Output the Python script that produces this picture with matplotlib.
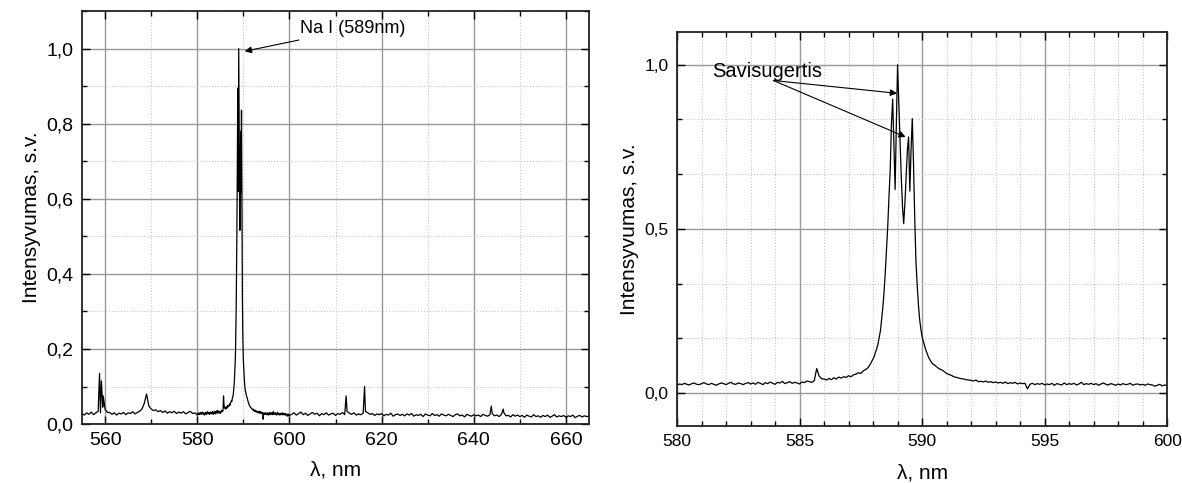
import numpy as np
import matplotlib
matplotlib.use('Agg')
import matplotlib.pyplot as plt
from matplotlib.ticker import MultipleLocator, FuncFormatter

plt.rcParams['font.family'] = ['Liberation Sans', 'DejaVu Sans']

# spectrum in pieces with different sampling
wl_a = np.arange(555.0, 580.0, 0.5)
int_a = [0.028, 0.024, 0.030, 0.026, 0.032, 0.025, 0.030, 0.034, 0.030, 0.045,
         0.040, 0.031, 0.031, 0.026, 0.030, 0.024, 0.029, 0.027, 0.031, 0.025,
         0.030, 0.028, 0.033, 0.027, 0.031, 0.034, 0.040, 0.055, 0.080, 0.048,
         0.040, 0.036, 0.038, 0.033, 0.036, 0.031, 0.035, 0.029, 0.033, 0.030,
         0.034, 0.028, 0.032, 0.029, 0.033, 0.027, 0.031, 0.034, 0.028, 0.030]

wl_b1 = np.arange(580.0, 587.95, 0.1)
int_b1 = [0.024, 0.028, 0.026, 0.030, 0.027, 0.025, 0.029, 0.031, 0.027, 0.026,
          0.029, 0.032, 0.028, 0.026, 0.030, 0.027, 0.024, 0.028, 0.031, 0.029,
          0.026, 0.030, 0.033, 0.028, 0.027, 0.031, 0.029, 0.026, 0.030, 0.032,
          0.028, 0.031, 0.027, 0.033, 0.030, 0.026, 0.032, 0.029, 0.034, 0.030,
          0.027, 0.033, 0.031, 0.036, 0.029, 0.032, 0.035, 0.030, 0.033, 0.031,
          0.028, 0.034, 0.032, 0.037, 0.035, 0.033, 0.038, 0.075, 0.052, 0.044,
          0.043, 0.040, 0.045, 0.041, 0.047, 0.043, 0.049, 0.046, 0.050, 0.048,
          0.053, 0.050, 0.056, 0.058, 0.062, 0.060, 0.068, 0.072, 0.078, 0.090]

wl_b2 = np.arange(588.0, 590.48, 0.05)
int_b2 = [0.105, 0.112, 0.125, 0.135, 0.150, 0.170, 0.190, 0.225, 0.262, 0.310,
          0.370, 0.440, 0.510, 0.600, 0.680, 0.820, 0.895, 0.760, 0.620, 0.820,
          1.000, 0.880, 0.770, 0.660, 0.570, 0.516, 0.580, 0.660, 0.740, 0.780,
          0.615, 0.740, 0.836, 0.700, 0.534, 0.400, 0.330, 0.270, 0.225, 0.195,
          0.172, 0.158, 0.145, 0.132, 0.122, 0.112, 0.104, 0.098, 0.092, 0.088]

wl_b3 = np.arange(590.5, 600.05, 0.1)
int_b3 = [0.086, 0.080, 0.074, 0.071, 0.066,
          0.060, 0.057, 0.054, 0.050, 0.048, 0.046, 0.044, 0.043, 0.041, 0.040,
          0.039, 0.037, 0.040, 0.035, 0.036, 0.034, 0.037, 0.033, 0.035, 0.032,
          0.034, 0.031, 0.033, 0.030, 0.034, 0.029, 0.032, 0.030, 0.033, 0.028,
          0.031, 0.029, 0.030, 0.013, 0.027, 0.030, 0.026, 0.029, 0.027, 0.030,
          0.025, 0.028, 0.026, 0.030, 0.024, 0.029, 0.027, 0.025, 0.031, 0.026,
          0.029, 0.027, 0.030, 0.025, 0.028, 0.033, 0.026, 0.029, 0.027, 0.030,
          0.026, 0.029, 0.024, 0.028, 0.031, 0.027, 0.025, 0.029, 0.027, 0.024,
          0.028, 0.025, 0.029, 0.026, 0.027, 0.030, 0.024, 0.027, 0.028, 0.025,
          0.027, 0.024, 0.028, 0.026, 0.025, 0.021, 0.024, 0.027, 0.022, 0.025,
          0.023]

wl_c = np.arange(600.5, 665.05, 0.5)
int_c = [0.026, 0.030, 0.024, 0.028, 0.032, 0.025, 0.029, 0.023, 0.027,
         0.031, 0.026, 0.029, 0.022, 0.028, 0.025, 0.030, 0.024, 0.027, 0.029,
         0.023, 0.028, 0.026, 0.031, 0.025, 0.034, 0.029, 0.026, 0.030, 0.024,
         0.027, 0.025, 0.029, 0.034, 0.030, 0.026, 0.028, 0.023, 0.027, 0.025,
         0.028, 0.022, 0.026, 0.024, 0.029, 0.021, 0.025, 0.027, 0.023, 0.026,
         0.022, 0.027, 0.024, 0.028, 0.021, 0.025, 0.023, 0.026, 0.020, 0.027,
         0.024, 0.022, 0.028, 0.023, 0.025, 0.021, 0.027, 0.024, 0.022, 0.026,
         0.023, 0.020, 0.025, 0.027, 0.022, 0.024, 0.019, 0.026, 0.023, 0.021,
         0.025, 0.022, 0.024, 0.020, 0.026, 0.023, 0.021, 0.025, 0.028, 0.022,
         0.024, 0.020, 0.026, 0.031, 0.022, 0.023, 0.019, 0.025, 0.021, 0.024,
         0.020, 0.023, 0.018, 0.024, 0.021, 0.019, 0.025, 0.020, 0.022, 0.018,
         0.023, 0.020, 0.024, 0.018, 0.021, 0.025, 0.019, 0.022, 0.020, 0.023,
         0.018, 0.022, 0.020, 0.024, 0.017, 0.021, 0.023, 0.019, 0.022, 0.020,
         0.021]

# narrow lines between the grid points
spike_wl = [558.8, 559.2, 559.6, 612.3, 616.3, 643.8, 646.4]
spike_int = [0.135, 0.115, 0.075, 0.075, 0.100, 0.048, 0.040]

wl = np.concatenate([wl_a, wl_b1, wl_b2, wl_b3, wl_c, spike_wl])
inten = np.concatenate([int_a, int_b1, int_b2, int_b3, int_c, spike_int])
order = np.argsort(wl)
wl = wl[order]
inten = inten[order]

fig = plt.figure(figsize=(11.82, 4.83), dpi=100)
ax1 = fig.add_axes([0.0694, 0.122, 0.4289, 0.855])
ax2 = fig.add_axes([0.5728, 0.118, 0.4146, 0.816])

comma = FuncFormatter(lambda v, p: f'{v:.1f}'.replace('.', ','))

for ax, tsize, xpad in ((ax1, 14, 8), (ax2, 12.5, 10)):
    ax.plot(wl, inten, color='black', lw=0.9)
    ax.grid(which='major', color='#999999', lw=1.0, ls='-')
    ax.grid(which='minor', color='#c8c8c8', lw=0.8, ls=':')
    ax.set_axisbelow(True)
    ax.tick_params(which='both', direction='in', top=True, right=True,
                   labelsize=tsize, width=1.0, pad=6)
    ax.tick_params(which='major', length=6)
    ax.tick_params(which='minor', length=3.5)
    for s in ax.spines.values():
        s.set_linewidth(1.3)
        s.set_color('#222222')
    ax.yaxis.set_major_formatter(comma)
    ax.set_xlabel('λ, nm', fontsize=15, labelpad=xpad)
    ax.set_ylabel('Intensyvumas, s.v.', fontsize=15, labelpad=4)

ax1.set_xlim(555, 665)
ax1.set_ylim(0, 1.1)
ax1.xaxis.set_major_locator(MultipleLocator(20))
ax1.xaxis.set_minor_locator(MultipleLocator(10))
ax1.yaxis.set_major_locator(MultipleLocator(0.2))
ax1.yaxis.set_minor_locator(MultipleLocator(0.1))
ax1.annotate('Na I (589nm)', xy=(590.3, 0.993), xytext=(602.4, 1.053),
             fontsize=13, va='center', ha='left',
             arrowprops=dict(arrowstyle='-|>', color='black', lw=0.8,
                             mutation_scale=10, shrinkA=0, shrinkB=0))

ax2.set_xlim(580, 600)
ax2.set_ylim(-0.1, 1.1)
ax2.xaxis.set_major_locator(MultipleLocator(5))
ax2.xaxis.set_minor_locator(MultipleLocator(1))
ax2.yaxis.set_major_locator(MultipleLocator(0.5))
ax2.yaxis.set_minor_locator(MultipleLocator(1 / 6))
ax2.text(581.42, 0.979, 'Savisugertis', fontsize=14.5, va='center', ha='left')
for tip in [(588.98, 0.913), (589.33, 0.78)]:
    ax2.annotate('', xy=tip, xytext=(583.93, 0.952),
                 arrowprops=dict(arrowstyle='-|>', color='black', lw=0.8,
                                 mutation_scale=10, shrinkA=0, shrinkB=0))

fig.savefig('out.png', dpi=100)
